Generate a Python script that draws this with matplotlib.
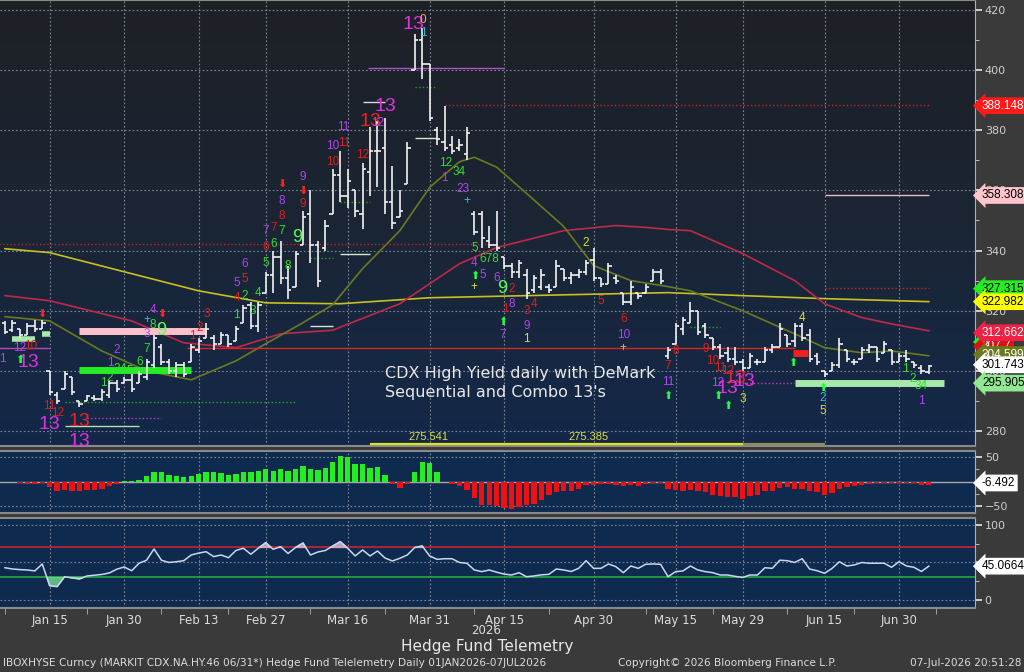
import matplotlib
matplotlib.use('Agg')
import matplotlib.pyplot as plt
import numpy as np
from matplotlib import font_manager
from matplotlib.colors import LinearSegmentedColormap

# ---- price bars (one per trading day) ----
hi = [316.6, 317, 314, 316, 317, 317, 300, 293, 300, 298,
      290, 292, 292, 294, 297, 297, 298, 299, 300, 304,
      312, 309, 304, 303, 303, 309, 311, 316, 312, 313,
      312, 315, 322, 323, 323, 333, 340, 343, 335, 340,
      353, 360, 343, 350, 367, 373, 367, 360, 369, 381,
      383, 384, 368, 360, 376, 412, 414, 402, 381, 388,
      378, 377, 381, 353, 353, 348, 353, 338, 336, 337,
      334, 332, 334, 329, 337, 334, 333, 334, 337, 341,
      331, 336, 332, 326, 330, 326, 329, 334, 334, 308,
      316, 318, 323, 320, 316, 311, 309, 308, 308, 304,
      306, 304, 308, 309, 316, 312, 316, 316, 314, 306,
      300, 303, 311, 307, 304, 308, 309, 308, 310, 307,
      306, 307, 303, 302, 302]
lo = [312.3, 313, 311, 312, 313, 314, 292, 289, 294, 292,
      288, 290, 290, 290, 291, 293, 296, 293, 296, 297,
      301, 302, 299, 298, 298, 303, 306, 311, 307, 309,
      308, 310, 316, 314, 313, 326, 326, 329, 324, 328,
      342, 336, 328, 340, 352, 356, 354, 351, 347, 358,
      361, 352, 347, 351, 362, 400, 397, 383, 375, 373,
      372, 373, 370, 345, 341, 341, 340, 334, 331, 331,
      324, 326, 327, 326, 328, 330, 329, 331, 332, 330,
      328, 329, 329, 322, 322, 324, 326, 330, 329, 304,
      309, 312, 316, 312, 311, 307, 304, 303, 302, 300,
      301, 302, 303, 306, 308, 308, 308, 310, 303, 302,
      298, 300, 301, 303, 302, 304, 306, 303, 306, 302,
      303, 303, 301, 299, 299]
op = [316, 313.5, 314, 312, 315, 314, 300, 292, 294, 298,
      290, 290, 291, 290.5, 292, 296, 296, 297, 296, 298,
      302, 308, 303, 300, 302, 303, 307, 311, 311, 309,
      312, 310, 316, 322, 315, 326, 332, 338, 331, 328,
      342, 352, 342, 341, 352, 365, 358, 360, 352, 366,
      373, 374, 356, 351, 362, 400, 410, 402, 380, 376,
      375, 374, 372, 352, 352, 343, 342, 338, 335, 333,
      332, 327, 328, 328, 328, 334, 331, 332, 333, 337,
      331, 329, 331, 326, 323, 326, 326, 330, 333, 305,
      309, 314, 316, 320, 315, 311, 308, 306, 304, 303,
      301, 303, 303, 307, 308, 312, 310, 315, 312, 305,
      300, 300, 302, 307, 303, 304, 307, 308, 306, 307,
      303, 305, 303, 301, 299.5]
cl = [313, 316, 312, 315, 314, 316, 293, 290, 299, 293,
      289, 291.5, 290.5, 293, 296, 294, 297, 294, 299, 303,
      311, 303, 300, 302, 299, 308, 310, 314, 309, 312,
      309, 314, 321, 315, 322, 332, 338, 331, 327, 339,
      351, 342, 330, 348, 365, 358, 363, 353, 367, 373,
      373, 356, 349, 353, 374, 410, 402, 384, 377, 374,
      373, 375, 379, 346, 344, 342, 341, 335, 333, 336,
      326, 331, 332, 327, 335, 331, 332, 333, 336, 331,
      329, 335, 330, 323, 328, 325, 328, 333, 330, 307,
      315, 317, 320, 313, 312, 308, 305, 304, 303, 301,
      305, 303, 307, 308, 314, 309, 315, 311, 304, 303,
      299, 302, 309, 304, 303, 307, 308, 304, 309, 303,
      305, 304, 302, 300, 301.743]

# moving averages, read at a few bars
ma_s_idx = [0, 6, 13, 19, 25, 31, 35, 40, 44, 48, 53, 57, 61, 63, 66, 70, 75, 79, 84, 89, 92, 99, 106, 110, 115, 119, 124]
ma_s_val = [318, 316.6, 306.6, 300, 297, 303.3, 309, 316, 322, 334, 346.6, 361, 369.5, 371, 367.7, 359, 348, 335, 330, 328, 326.6, 320, 312.3, 307.7, 306, 306.6, 305]
ma_m_idx = [0, 6, 17, 24, 31, 37, 44, 46, 53, 61, 66, 75, 82, 86, 89, 92, 99, 106, 110, 115, 119, 124]
ma_m_val = [325, 323.3, 316.6, 309.3, 307.7, 312.3, 313.5, 315.5, 322.3, 335.6, 341, 346.6, 348.3, 347.7, 347, 346.6, 339, 330, 322.3, 317.7, 315.6, 313.3]
ma_l_idx = [0, 6, 17, 26, 35, 45, 57, 70, 89, 99, 110, 124]
ma_l_val = [340.6, 339.3, 332.3, 326.6, 322.6, 322.3, 324.3, 325, 326, 325, 324, 323]

macd = [0, -1, -4, -6, -6, -4, -11, -20, -18, -20,
        -20, -18, -17, -15, -10, -5, 2, 2, 4, 12,
        20, 20, 13, 12, 9, 12, 15, 20, 19, 17,
        14, 15, 19, 19, 21, 25, 22, 25, 21, 25,
        32, 25, 24, 27, 40, 52, 49, 35, 35, 27,
        30, 14, -6, -13, -6, 20, 40, 37, 20, 0,
        -5, -10, -17, -33, -47, -48, -50, -53, -55, -51,
        -48, -45, -38, -28, -21, -20, -20, -16, -8, -7,
        -5, -5, -7, -9, -8, -9, -5, -3, -3, -15,
        -18, -20, -17, -19, -21, -28, -29, -31, -32, -35,
        -30, -27, -20, -20, -13, -11, -15, -15, -19, -21,
        -27, -23, -16, -12, -10, -8, -5, -3, -3, -4,
        -3, -3, -4, -8, -6.5]

rsi = [43, 41.3, 40.5, 40, 38.7, 48, 19, 17.8, 31, 29.5,
       28, 32, 33, 34, 36, 41, 44, 39, 49, 53,
       68, 53, 50, 51, 52.4, 60, 62.5, 64.4, 57.8, 60,
       56.4, 66, 69, 61, 69, 76.4, 67.6, 71, 62, 70,
       76, 60, 64, 66, 72, 77.8, 69, 58.7, 66.7, 58.7,
       65.3, 56, 52, 55.6, 60, 70, 72, 58.7, 54.2, 55,
       55, 50, 48.9, 40, 37.8, 40, 37, 34.5, 33.3, 36.4,
       31, 32, 33.5, 34.2, 41.3, 40, 38, 42.2, 52.4, 42.2,
       42.2, 48, 44.4, 36.4, 45.3, 42.2, 47.6, 48, 47.6, 31,
       37.8, 38.7, 45.3, 40, 37.8, 36.4, 33.3, 33.3, 31.5, 30,
       33.3, 33.3, 43, 42.2, 53, 52.4, 50, 55, 41.3, 39,
       35.6, 42, 51, 45.3, 46.7, 50, 49, 49, 49, 43.6,
       51, 45.3, 43.6, 38, 45.07]

tick_idx = [6, 16, 26, 35, 46, 57, 67, 79, 90, 99, 110, 120]
tick_lbl = ['Jan 15', 'Jan 30', 'Feb 13', 'Feb 27', 'Mar 16', 'Mar 31',
            'Apr 15', 'Apr 30', 'May 15', 'May 29', 'Jun 15', 'Jun 30']
mid_idx = [0, 11, 21, 30, 41, 51, 63, 73, 86, 95, 105, 114, 125]

# DeMark counts: (bar, price, label, kind)
marks = [
    (-0.3, 304, '1', 'p'), (2.0, 307.6, '12', 'p'), (3.4, 308.3, '10', 'r'),
    (3.1, 302.6, '13', 'M'), (2.0, 303.5, '\u2b06', 'ua'), (5.0, 319, '\u2b07', 'da'),
    (6.0, 288.3, '11', 'r'), (7.1, 286, '12', 'r'), (10.0, 283.3, '13', 'R'),
    (6.0, 282, '13', 'M'), (10.0, 276.5, '13', 'M'),
    (14.1, 302.6, '1', 'p'), (15.0, 307, '2', 'p'), (13.2, 296, '1', 'g'),
    (14.1, 297.6, '2', 'g'), (15.0, 300.5, '3', 'g'), (15.8, 300.5, '4', 'g'),
    (16.8, 300, '5', 'g'), (18.1, 303, '6', 'g'), (19.0, 307.3, '7', 'g'),
    (19.9, 315.3, '8', 'g'), (21.0, 313.3, '9', 'G'), (19.9, 320.3, '4', 'p'),
    (21.0, 319, '\u2b07', 'da'), (19.0, 312.3, '3', 'p'), (19.0, 317, '+', 'c'),
    (25.2, 311.6, '1', 'r'), (26.2, 314.3, '2', 'r'), (27.1, 319, '3', 'r'),
    (31.1, 318.6, '1', 'g'), (32.2, 325, '2', 'g'), (33.2, 320, '3', 'g'),
    (34.0, 326, '4', 'g'), (31.1, 324.3, '4', 'r'), (31.1, 329.3, '5', 'p'),
    (32.2, 330.6, '5', 'r'), (32.2, 335.6, '6', 'p'), (35.0, 336, '5', 'g'),
    (35.0, 341.3, '6', 'r'), (36.0, 342.3, '6', 'g'), (35.0, 346.6, '7', 'p'),
    (36.0, 347.6, '7', 'r'), (37.2, 346.6, '7', 'g'), (37.2, 351.6, '8', 'r'),
    (37.2, 356.6, '8', 'p'), (37.2, 362.3, '\u2b07', 'da'), (38.0, 335, '8', 'g'),
    (39.2, 344.3, '9', 'G'), (40.0, 364.3, '9', 'p'), (40.0, 360, '\u2b07', 'da'),
    (40.0, 355.6, '9', 'r'),
    (44.0, 369.3, '10', 'r'), (44.0, 374.6, '10', 'p'), (45.4, 381, '11', 'p'),
    (45.6, 375.6, '11', 'r'), (48.0, 371.6, '12', 'r'), (49.0, 383, '13', 'R'),
    (50.0, 382.3, '12', 'p'), (51.0, 388, '13', 'M'),
    (54.8, 415.3, '13', 'M'), (56.1, 416.6, '0', 'o'), (56.1, 412.3, '1', 'c'),
    (59.2, 369, '12', 'g'), (61.0, 366, '34', 'g'), (59.0, 364, '1', 'p'),
    (61.5, 360.6, '23', 'p'), (62.0, 356.3, '+', 'c'),
    (63.0, 341, '5', 'g'), (65.0, 337.3, '678', 'g'), (63.0, 336, '4', 'p'),
    (64.2, 332, '5', 'p'), (66.0, 331, '6', 'p'), (63.0, 331.6, '\u2b06', 'ua'),
    (63.0, 328, '+', 'y'),
    (66.8, 327.3, '9', 'G'), (68.0, 327.3, '2', 'r'), (67.1, 320.6, '1', 'r'),
    (68.0, 322.3, '8', 'p'), (66.8, 316.3, '\u2b06', 'ua'), (66.8, 312, '7', 'p'),
    (70.0, 320, '3', 'r'), (71.0, 322.3, '4', 'r'), (70.0, 315, '9', 'p'),
    (70.0, 310.6, '1', 'y'),
    (78.0, 342.6, '2', 'y'), (80.0, 323.3, '5', 'r'), (83.0, 317.3, '6', 'r'),
    (83.0, 312, '10', 'p'), (83.0, 307.6, '+', 'o'),
    (89.0, 301.6, '7', 'r'), (90.0, 306.6, '8', 'r'), (89.0, 296.3, '11', 'p'),
    (89.0, 291.6, '\u2b06', 'ua'),
    (94.0, 307.3, '9', 'r'), (95.0, 303.3, '10', 'r'), (96.0, 301, '11', 'r'),
    (97.0, 300, '12', 'r'), (98.0, 297.3, '13', 'R'), (95.7, 296, '12', 'p'),
    (97.0, 294, '13', 'M'), (99.3, 296.6, '13', 'M'), (99.0, 290.6, '3', 'y'),
    (95.7, 291.6, '\u2b06', 'ua'), (97.0, 288.3, '\u2b06', 'ua'),
    (107.0, 317.6, '4', 'y'), (105.8, 302.6, '\u2b06', 'ua'),
    (109.8, 291, '2', 'c'), (109.8, 286.6, '5', 'y'), (109.8, 294.3, '\u2b06', 'ua'),
    (120.8, 300.6, '1', 'g'), (121.9, 297.3, '2', 'g'), (123.0, 295, '34', 'g'),
    (123.0, 290, '1', 'p'),
]

# horizontal levels: (from bar, to bar, price, colour, style, width)
levels = [
    (-1, 66, 342.3, '#cc2222', ':', 1.0),
    (59, 124, 388.3, '#cc2222', ':', 1.0),
    (24.4, 106, 307.7, '#dd2222', '-', 1.0),
    (48.7, 67, 400.6, '#b050d0', '-', 1.0),
    (110, 124, 358.3, '#f0b8c8', '-', 1.0),
    (110, 124, 327.6, '#cc2222', ':', 1.0),
    (106, 126, 295.9, '#a8e8a8', '-', 5),
    (10, 27, 313.3, '#ffc0cc', '-', 5),
    (10, 25, 300.3, '#22ee22', '-', 5),
    (8, 39, 289.6, '#22aa22', ':', 1.0),
    (11, 21, 284.3, '#c040c0', ':', 1.0),
    (8, 18, 281.6, '#b0e0b0', '-', 1.0),
    (49, 99, 275.6, '#e0e022', '-', 1.6),
    (99, 110, 275.6, '#8c8c55', '-', 1.6),
    (-1, 6, 307.6, '#c040c0', '-', 1.0),
    (1, 4, 310.6, '#a8e8a8', '-', 4),
    (5, 6, 312.3, '#a8e8a8', '-', 4),
    (41, 44, 315, '#d0e8d0', '-', 1),
    (45, 49, 339, '#d0e8d0', '-', 1),
    (55, 58, 377.3, '#d0e8d0', '-', 1),
    (45, 49, 356, '#22aa22', ':', 1),
    (55, 58, 394.3, '#22aa22', ':', 1),
    (41, 44, 337.6, '#22aa22', ':', 1),
    (48, 51, 389.3, '#e0d0f0', '-', 1),
    (98, 106, 296, '#c040c0', ':', 1),
    (105.8, 107.8, 306, '#ee2222', '-', 5),
    (92, 96, 314.5, '#22aa22', ':', 1),
]

kind_style = {
    'g': ('#33dd33', 8.5), 'G': ('#55ff55', 13), 'r': ('#dd2020', 8.5),
    'R': ('#ee2222', 14), 'p': ('#b044ee', 8.5), 'M': ('#dd33dd', 14),
    'y': ('#dddd33', 8.5), 'c': ('#33bbdd', 8.5), 'o': ('#ffaa66', 8.5),
    'ua': ('#22ff44', 8), 'da': ('#ff2222', 8),
}

installed = {f.name for f in font_manager.fontManager.ttflist}
NARROW = 'DejaVu Sans'
for cand in ('Liberation Sans Narrow', 'DejaVu Sans Condensed', 'Liberation Sans'):
    if cand in installed:
        NARROW = cand
        break

BG = '#3a3a3a'
GRID = '#7c8796'
TXT = '#dcdcdc'
FW, FH = 1024, 672
plt.rcParams['font.family'] = ['DejaVu Sans']

fig = plt.figure(figsize=(10.24, 6.72), dpi=100, facecolor=BG)
right = 975 / FW
ax = fig.add_axes([0, 1 - 446 / FH, right, 446 / FH])
axm = fig.add_axes([0, 1 - 513 / FH, right, 62 / FH])
axr = fig.add_axes([0, 1 - 608 / FH, right, 90 / FH])

x = np.arange(len(hi))
xlim = (-0.67, 130.2)

# main panel background gradient
cmap = LinearSegmentedColormap.from_list('bg', ['#1e2025', '#1b2534', '#13294a'])
grad = np.linspace(0, 1, 256).reshape(-1, 1)
ax.imshow(grad, extent=[0, 1, 0, 1], transform=ax.transAxes, aspect='auto',
          cmap=cmap, zorder=-10)
for a in (axm, axr):
    a.set_facecolor('#0f2a4f')

for a in (ax, axm, axr):
    a.set_xlim(*xlim)
    a.spines['left'].set_visible(False)
    a.spines['right'].set_color('#b0b0b0')
    a.spines['top'].set_color('#8a8a8a')
    a.spines['bottom'].set_color('#8a8a8a')
    a.spines['top'].set_linewidth(1.5)
    a.spines['bottom'].set_linewidth(1.5)
    a.yaxis.tick_right()
    a.tick_params(axis='y', colors='#e8e8e8', labelcolor='#cfcfcf', labelsize=8,
                  length=5, width=1.2, direction='out', pad=2)
    a.tick_params(axis='y', which='minor', colors='#cfcfcf', length=3)
    for t in tick_idx:
        a.axvline(t, color=GRID, ls=(0, (1.5, 2)), lw=0.8, zorder=0)

# ---- main panel ----
ax.set_ylim(275, 423.3)
ax.set_yticks(np.arange(280, 421, 20))
ax.set_yticks(np.arange(290, 421, 10), minor=True)
for yv in np.arange(280, 421, 20):
    ax.axhline(yv, color=GRID, ls=(0, (1.5, 2)), lw=0.8, zorder=0)
ax.set_xticks([])

ax.plot(ma_l_idx, ma_l_val, color='#c8c020', lw=1.2, zorder=2)
ax.plot(ma_m_idx, ma_m_val, color='#c02848', lw=1.2, zorder=2)
ax.plot(ma_s_idx, ma_s_val, color='#6a7a20', lw=1.2, zorder=2)

for x0, x1, yv, c, ls, lw in levels:
    ax.plot([x0, x1], [yv, yv], color=c, ls=ls, lw=lw, zorder=3,
            solid_capstyle='butt')

ax.vlines(x, lo, hi, color='#f2f2f2', lw=1.2, zorder=4)
ax.hlines(op, x - 0.45, x, color='#f2f2f2', lw=1.2, zorder=4)
ax.hlines(cl, x, x + 0.45, color='#f2f2f2', lw=1.2, zorder=4)

for bx, by, lab, kind in marks:
    c, fs = kind_style[kind]
    fam = 'DejaVu Sans' if kind in ('ua', 'da') else NARROW
    ax.text(bx, by, lab, color=c, fontsize=fs, ha='center', va='center',
            family=fam, zorder=5, clip_on=True)

ax.text(56.8, 277.9, '275.541', color='#dddd44', fontsize=8, ha='center',
        va='center', family=NARROW, zorder=5)
ax.text(78.3, 277.9, '275.385', color='#dddd44', fontsize=8, ha='center',
        va='center', family=NARROW, zorder=5)

ax.text(385 / 975, 1 - 366 / 446, "CDX High Yield daily with DeMark\nSequential and Combo 13's",
        transform=ax.transAxes, color='#e8e8e8', fontsize=11.5, ha='left',
        va='top', linespacing=1.35, zorder=6)


def tag(a, yv, text, fc, tc, z=20):
    a.annotate(text, xy=(1.0, yv), xycoords=('axes fraction', 'data'),
               xytext=(5, 0), textcoords='offset points', ha='left',
               va='center', fontsize=8.5, color=tc, family=NARROW,
               annotation_clip=False,
               bbox=dict(boxstyle='larrow,pad=0.2', fc=fc, ec='none'),
               zorder=z)


tag(ax, 388.148, '388.148', '#ff1a1a', 'white')
tag(ax, 358.308, '358.308', '#ffc4cc', 'black')
tag(ax, 327.315, '327.315', '#22ee22', 'black', 20)
tag(ax, 322.982, '322.982', '#ffff00', 'black', 21)
tag(ax, 309.6, '308.2', '#22ee22', 'black', 20)
tag(ax, 308.2, '307.7', '#dd1111', 'white', 21)
tag(ax, 312.662, '312.662', '#ee2244', 'white', 22)
tag(ax, 305.4, '304.599', '#6a7a20', 'white', 23)
tag(ax, 302.0, '301.743', 'white', 'black', 24)
tag(ax, 295.905, '295.905', '#90e890', 'black', 25)

# ---- histogram panel ----
axm.set_ylim(-64, 62)
macd_arr = np.array(macd)
cols = np.where(macd_arr >= 0, '#22ee22', '#ee1111')
axm.bar(x, macd_arr, width=0.72, color=cols, zorder=3)
axm.axhline(0, color='#a8a8a8', lw=1, zorder=2)
for yv in (50, -50):
    axm.axhline(yv, color=GRID, ls=(0, (1.5, 2)), lw=0.8, zorder=0)
axm.set_yticks([-50, 50])
axm.set_yticks([-25, 25], minor=True)
axm.set_xticks([])
tag(axm, -3, '-6.492', 'white', 'black')

# ---- oscillator panel ----
axr.set_ylim(-10.7, 109.3)
rsi_arr = np.array(rsi)
for yv in (0, 50, 100):
    axr.axhline(yv, color=GRID, ls=(0, (1.5, 2)), lw=0.8, zorder=0)
axr.axhline(70, color='#cc2233', lw=1.2, zorder=2)
axr.axhline(30, color='#22aa44', lw=1.2, zorder=2)
axr.fill_between(x, rsi_arr, 70, where=rsi_arr > 70, interpolate=True,
                 color='#d8b8c8', alpha=0.85, zorder=2)
axr.fill_between(x, rsi_arr, 30, where=rsi_arr < 30, interpolate=True,
                 color='#70d090', alpha=0.85, zorder=2)
axr.plot(x, rsi_arr, color='#c8d8ee', lw=1.1, zorder=3)
axr.set_yticks([0, 50, 100])
axr.set_yticks([25, 75], minor=True)
axr.set_xticks(tick_idx)
axr.set_xticklabels(tick_lbl)
axr.set_xticks(mid_idx, minor=True)
axr.tick_params(axis='x', which='major', length=0, labelcolor=TXT,
                labelsize=8.5, pad=4)
axr.tick_params(axis='x', which='minor', length=4, color='#b0b0b0')
tag(axr, 45.0664, '45.0664', 'white', 'black')

fig.text(486 / FW, 1 - 630 / FH, '2026', color=TXT, fontsize=8.5,
         ha='center', va='center')
fig.text(487 / FW, 1 - 647 / FH, 'Hedge Fund Telemetry', color='#e8e8e8',
         fontsize=11, ha='center', va='center')
fig.text(3 / FW, 1 - 663 / FH,
         'IBOXHYSE Curncy (MARKIT CDX.NA.HY.46 06/31*) Hedge Fund Telelemetry Daily 01JAN2026-07JUL2026',
         color=TXT, fontsize=7.6, ha='left', va='center')
fig.text(618 / FW, 1 - 663 / FH, 'Copyright\u00a9 2026 Bloomberg Finance L.P.',
         color=TXT, fontsize=7.6, ha='left', va='center')
fig.text(1021 / FW, 1 - 663 / FH, '07-Jul-2026 20:51:28', color=TXT,
         fontsize=7.6, ha='right', va='center')

fig.savefig('out.png', dpi=100, facecolor=BG)
